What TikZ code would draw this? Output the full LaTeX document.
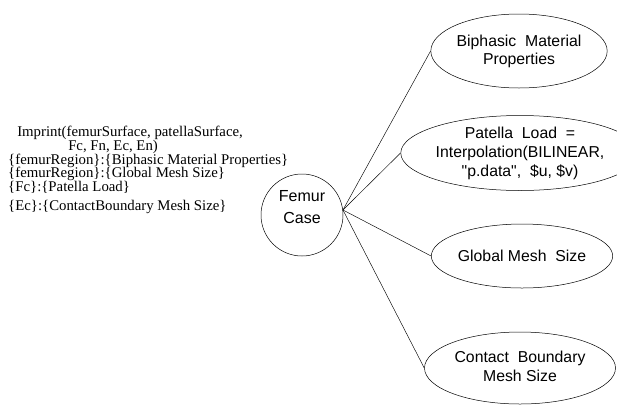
\documentclass[tikz,border=0pt]{standalone}
\usepackage{fontspec}
\setmainfont{Liberation Serif}
\newfontfamily\helv{Liberation Sans}
\usetikzlibrary{shapes.geometric}
\begin{document}
\begin{tikzpicture}[x=1pt,y=-1pt,
  line width=0.5pt,
  bubble/.style={draw,ellipse,inner sep=0pt,align=center,font=\helv\fontsize{15.8}{20}\selectfont},
  codeline/.style={anchor=west,inner sep=0pt,text height=9.5pt,text depth=3pt,font=\fontsize{14.8}{15}\selectfont},
  link/.style={draw,line width=0.45pt}]
\useasboundingbox (0,0) rectangle (617,405);
% left text
\node[codeline] (t1) at (17,133) {Imprint(femurSurface, patellaSurface,};
\node[codeline] (t2) at (68,147) {Fc, Fn, Ec, En)};
\node[codeline] (t3) at (8,161) {\{femurRegion\}:\{Biphasic Material Properties\}};
\node[codeline] (t4) at (8,174.5) {\{femurRegion\}:\{Global Mesh Size\}};
\node[codeline] (t5) at (8,188.5) {\{Fc\}:\{Patella Load\}};
\node[codeline] (t6) at (8,207) {\{Ec\}:\{ContactBoundary Mesh Size\}};
% femur circle
\node[draw,circle,minimum size=82pt,inner sep=0pt,align=center,
  font=\helv\fontsize{16}{21}\selectfont] (fc) at (302,215) {Femur\\[1pt]Case\\[-4pt]\mbox{}};
\coordinate (j) at (fc.7);
% ellipses
\node[bubble,minimum width=134pt,minimum height=74pt] (a) at (519,51) {Biphasic\ \ Material\\[-2pt]Properties};
\node[bubble,minimum width=191pt,minimum height=75pt] (b) at (520,153) {Patella\ \ Load\ \ =\\[-1pt]Interpolation(BILINEAR,\\[-1pt]"p.data",\ \ \$u,\ \$v)};
\node[bubble,minimum width=139pt,minimum height=64pt] (c) at (522,256) {Global\ Mesh\ \ Size};
\node[bubble,minimum width=191pt,minimum height=72pt] (d) at (520,368) {\mbox{}\\[-12pt]Contact\ \ Boundary\\[-1pt]Mesh\ Size};
% connectors
\draw[link] (j) -- (a.west);
\draw[link] (j) -- (b.west);
\draw[link] (j) -- (c.west);
\draw[link] (j) -- (d.west);
\end{tikzpicture}
\end{document}
